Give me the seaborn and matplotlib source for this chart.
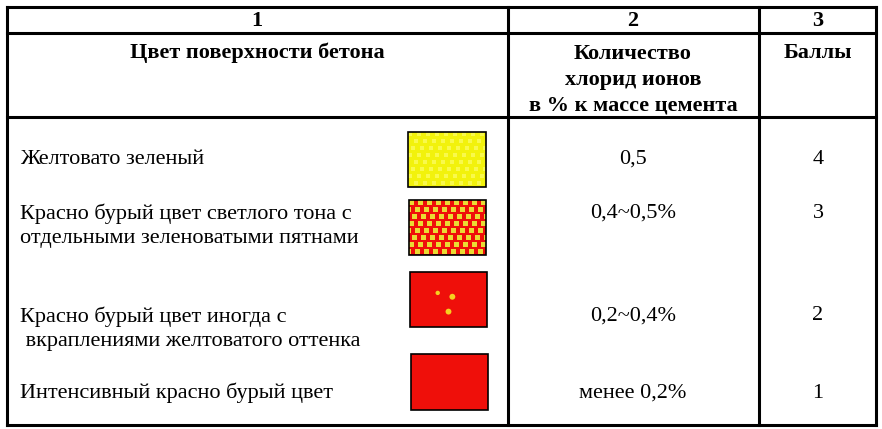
import numpy as np
import matplotlib
matplotlib.use("Agg")
import matplotlib.pyplot as plt
import seaborn as sns
from matplotlib.patches import Rectangle

# table content
col_numbers = ["1", "2", "3"]
col_headers = ["Цвет поверхности бетона",
               "Количество\nхлорид ионов\nв % к массе цемента",
               "Баллы"]
descriptions = ["Желтовато зеленый",
                "Красно бурый цвет светлого тона с\nотдельными зеленоватыми пятнами",
                "Красно бурый цвет иногда с\n вкраплениями желтоватого оттенка",
                "Интенсивный красно бурый цвет"]
chloride = ["0,5", "0,4~0,5%", "0,2~0,4%", "менее 0,2%"]
scores = ["4", "3", "2", "1"]
swatch_kind = ["yellow", "checker", "spots", "red"]
# yellow spots on swatch 3, as fractions of the swatch
spot_fx = [0.36, 0.55, 0.50]
spot_fy = [0.38, 0.45, 0.72]
spot_size = [1, 2, 2]

sns.set_theme(style="white")
plt.rcParams['font.family'] = ['Liberation Serif', 'DejaVu Serif']
plt.rcParams['text.color'] = 'black'

W, H = 882, 429
fig = plt.figure(figsize=(W / 100, H / 100), dpi=100)
ax = fig.add_axes([0, 0, 1, 1])

# grid geometry in pixels
x_left, x_c1, x_c2, x_right = 7, 508, 759, 876
y_top, y_h1, y_h2, y_bot = 7, 33, 117, 425
lw = 2.2

for x in [x_left, x_c1, x_c2, x_right]:
    ax.plot([x, x], [y_top, y_bot], color="black", lw=lw, solid_capstyle="projecting")
for y in [y_top, y_h1, y_h2, y_bot]:
    ax.plot([x_left, x_right], [y, y], color="black", lw=lw, solid_capstyle="projecting")

col_centers = [257, 633, 818]
fs = 16
for cx, n in zip(col_centers, col_numbers):
    ax.text(cx, 21, n, ha="center", va="center", fontsize=fs, fontweight="bold")

ax.text(col_centers[0], 53, col_headers[0], ha="center", va="center",
        fontsize=fs, fontweight="bold")
ax.text(col_centers[1], 80, col_headers[1], ha="center", va="center",
        fontsize=fs, fontweight="bold", linespacing=1.38)
ax.text(col_centers[2], 53, col_headers[2], ha="center", va="center",
        fontsize=fs, fontweight="bold")

desc_y = [159, 226, 329, 393]
value_y = [159, 213, 316, 393]
for i in range(len(descriptions)):
    ax.text(20, desc_y[i], descriptions[i], ha="left", va="center", fontsize=fs,
            linespacing=1.33)
    ax.text(col_centers[1], value_y[i], chloride[i], ha="center", va="center", fontsize=fs)
    ax.text(col_centers[2], value_y[i], scores[i], ha="center", va="center", fontsize=fs)

swatches = [(408, 132, 78, 55), (409, 200, 77, 55), (410, 272, 77, 55), (411, 354, 77, 56)]
yellow = np.array([0.95, 0.95, 0.05])
light_yellow = np.array([0.98, 0.98, 0.30])
red = np.array([0.94, 0.06, 0.04])
square_yellow = np.array([0.92, 0.86, 0.20])

for (sx, sy, sw, sh), kind in zip(swatches, swatch_kind):
    hh, ww = int(sh), int(sw)
    yy, xx = np.mgrid[0:hh, 0:ww]
    if kind == "yellow":
        mask = ((xx + 3 * (yy // 7)) % 9 < 4) & (yy % 7 < 4)
        img = np.where(mask[..., None], light_yellow, yellow)
    elif kind == "checker":
        mask = ((xx + 3 * (yy // 7)) % 9 < 5) & (yy % 7 < 5)
        img = np.where(mask[..., None], square_yellow, red)
    else:
        img = np.broadcast_to(red, (hh, ww, 3))
    ax.imshow(img, extent=[sx, sx + sw, sy + sh, sy], interpolation="bilinear",
              aspect="auto", zorder=2)
    ax.add_patch(Rectangle((sx, sy), sw, sh, fill=False, ec="black", lw=1.2, zorder=3))
    if kind == "spots":
        sns.scatterplot(x=[sx + f * sw for f in spot_fx], y=[sy + f * sh for f in spot_fy],
                        ax=ax, color="#f5d020", size=spot_size, sizes=(10, 18),
                        legend=False, linewidth=0, zorder=4)

ax.set_xlim(0, W)
ax.set_ylim(H, 0)
ax.set_xlabel("")
ax.set_ylabel("")
ax.axis("off")

fig.savefig("out.png", dpi=100)
